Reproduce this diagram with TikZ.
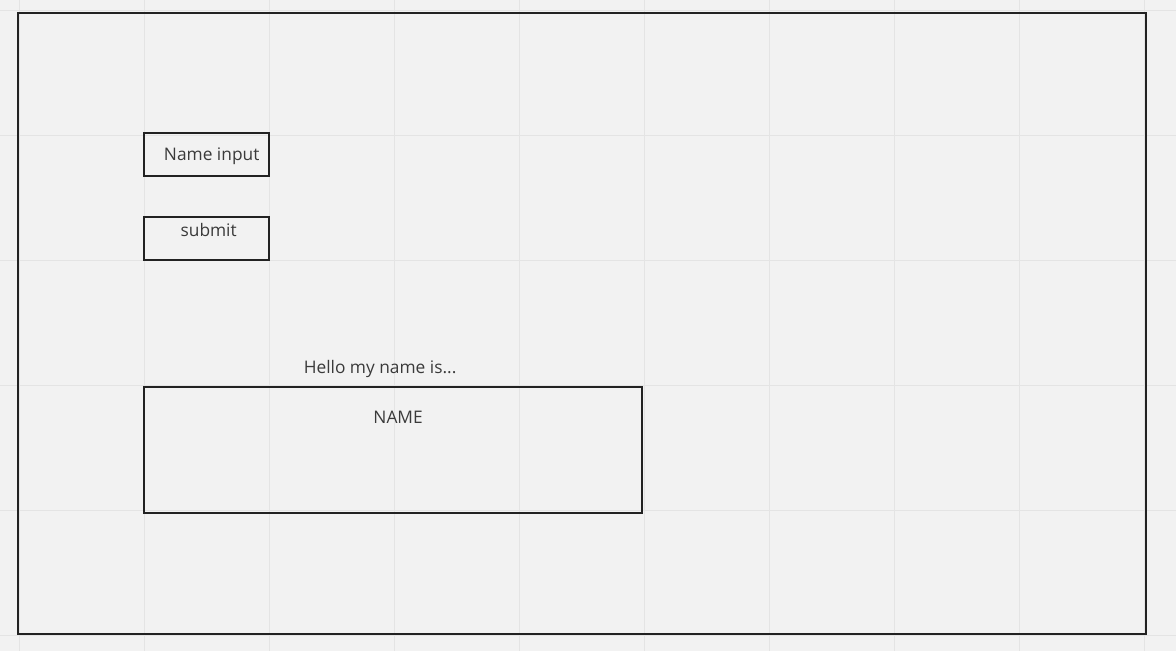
\documentclass[tikz,border=0pt]{standalone}
\usepackage{fontspec}
\setmainfont{Open Sans}
\usetikzlibrary{positioning}
\definecolor{bgcol}{HTML}{F2F2F2}
\definecolor{gridcol}{HTML}{E4E4E4}
\definecolor{linecol}{HTML}{222222}
\definecolor{textcol}{HTML}{3A3A3A}
\begin{document}
\begin{tikzpicture}[x=0.75pt,y=-0.75pt,node distance=29.25pt,
  box/.style={draw=linecol,line width=1.5pt,inner sep=0pt},
  lbl/.style={text=textcol,font=\fontsize{13}{15}\selectfont,inner sep=0pt}]

                \fill[bgcol] (0,0) rectangle (1176,651);
                \foreach \x in {19,144,...,1144} \draw[gridcol] (\x,0) -- (\x,651);
                \foreach \y in {10,135,...,635} \draw[gridcol] (0,\y) -- (1176,\y);
                \useasboundingbox (0,0) rectangle (1176,651);

                \node[box,minimum width=846pt,minimum height=465.75pt] (frame) at (582,323.5) {};

                \node[box,minimum width=93.75pt,minimum height=32.25pt] (input) at (206.5,154.5) {};
                \node[lbl] (inputtext) at (211.5,156.5) {Name input};

                \node[box,minimum width=93.75pt,minimum height=32.25pt] (submit) [below=of input] {};
                \node[lbl,xshift=1.5pt] (submittext) [below=5.5pt of submit.north] {submit};

                \node[box,minimum width=373.5pt,minimum height=94.5pt] (namebox) at (393,450) {};
                \node[lbl] (hello) at (380,368.5) {Hello my name is...};
                \node[lbl,xshift=3.75pt] (nametext) [below=18.5pt of namebox.north] {NAME};

            \end{tikzpicture}
\end{document}
